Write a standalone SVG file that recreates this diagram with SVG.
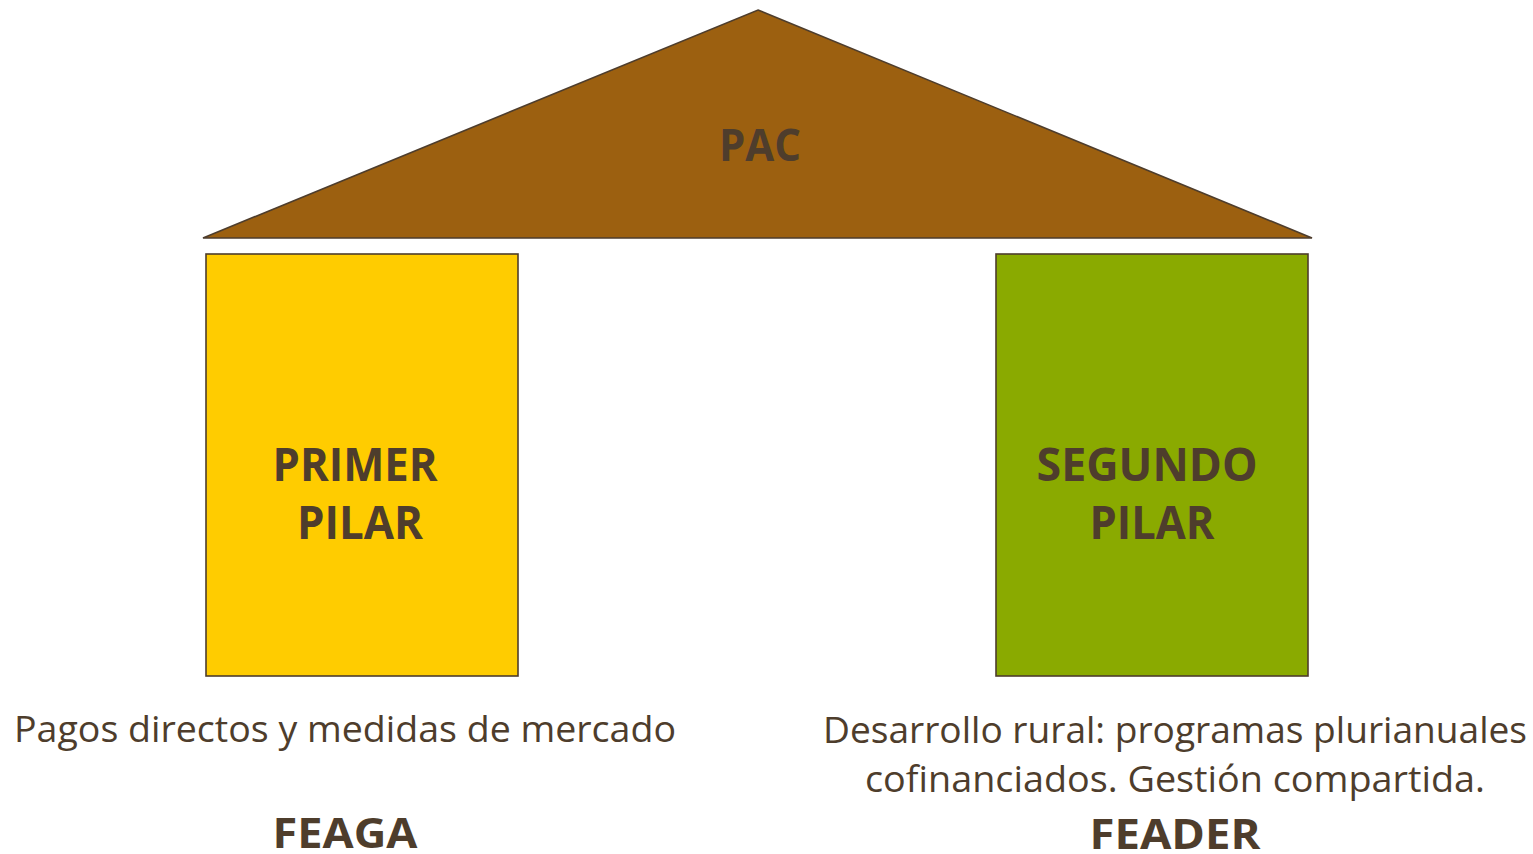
<svg xmlns="http://www.w3.org/2000/svg" width="1533" height="854" viewBox="0 0 1533 854">
<style>
.t{font-family:"Open Sans","Noto Sans","Liberation Sans",sans-serif;fill:#4E3D2C}
.b{font-weight:bold}
.shape{stroke:#4E3D2C;stroke-width:1.6}
</style>
<rect width="1533" height="854" fill="#FFFFFF"/>
<g id="pac">
<polygon class="shape" points="758,10 1312,238 203,238" fill="#9C6010"/>
<text class="t b" x="760" y="161" font-size="44" text-anchor="middle" textLength="82" lengthAdjust="spacingAndGlyphs">PAC</text>
</g>
<g id="primer-pilar">
<rect class="shape" x="206" y="254" width="312" height="422" fill="#FFCC00"/>
<text class="t b" x="355" y="481" font-size="46" text-anchor="middle" textLength="165" lengthAdjust="spacingAndGlyphs">PRIMER</text>
<text class="t b" x="360" y="539" font-size="46" text-anchor="middle" textLength="126" lengthAdjust="spacingAndGlyphs">PILAR</text>
</g>
<g id="segundo-pilar">
<rect class="shape" x="996" y="254" width="312" height="422" fill="#8AAA00"/>
<text class="t b" x="1147" y="481" font-size="46" text-anchor="middle" textLength="221" lengthAdjust="spacingAndGlyphs">SEGUNDO</text>
<text class="t b" x="1152" y="539" font-size="46" text-anchor="middle" textLength="125" lengthAdjust="spacingAndGlyphs">PILAR</text>
</g>
<g id="feaga">
<text class="t" x="14" y="742" font-size="37" textLength="662" lengthAdjust="spacingAndGlyphs">Pagos directos y medidas de mercado</text>
<text class="t b" x="345" y="848" font-size="42" text-anchor="middle" textLength="145" lengthAdjust="spacingAndGlyphs">FEAGA</text>
</g>
<g id="feader">
<text class="t" x="1175" y="743" font-size="37" text-anchor="middle" textLength="704" lengthAdjust="spacingAndGlyphs">Desarrollo rural: programas plurianuales</text>
<text class="t" x="1175" y="792" font-size="37" text-anchor="middle" textLength="620" lengthAdjust="spacingAndGlyphs">cofinanciados. Gestión compartida.</text>
<text class="t b" x="1175" y="849" font-size="42" text-anchor="middle" textLength="171" lengthAdjust="spacingAndGlyphs">FEADER</text>
</g>
<g id="connectors"/>
</svg>
